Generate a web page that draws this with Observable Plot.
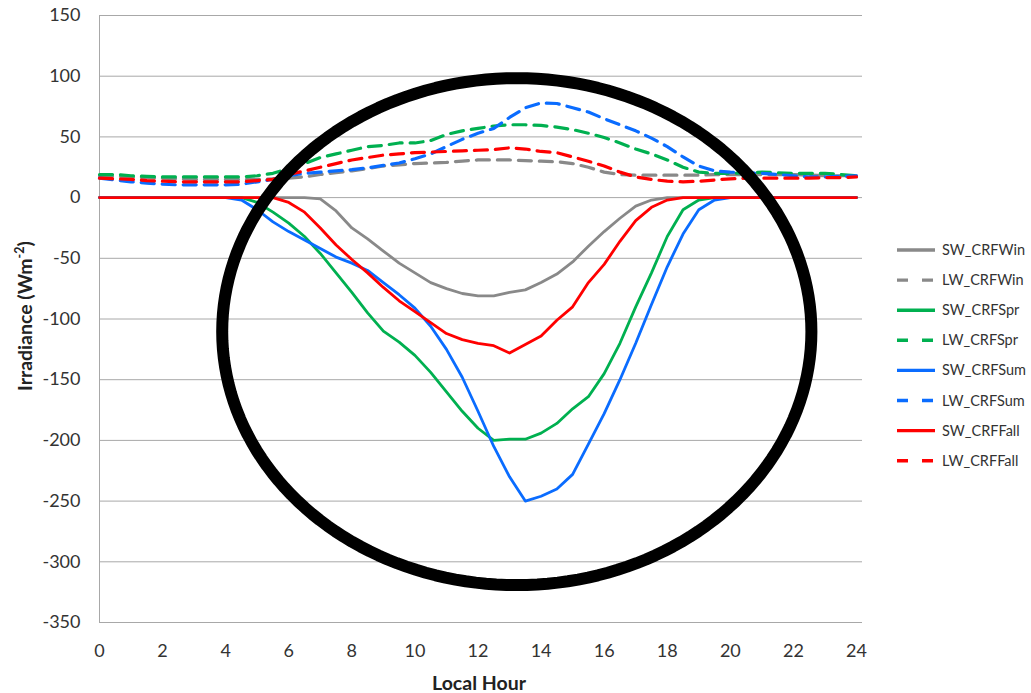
<!DOCTYPE html>
<html>
<head>
<meta charset="utf-8">
<script src="https://cdn.jsdelivr.net/npm/d3@7"></script>
<script src="https://cdn.jsdelivr.net/npm/@observablehq/plot@0.6"></script>
<style>
  body { margin: 0; background: #fff; }
  #chart { position: relative; width: 1031px; height: 693px; }
</style>
</head>
<body>
<div id="chart"></div>
<script>
// Half-hourly local hours, 0 to 24
const hours = d3.range(0, 24.01, 0.5);

// Shortwave cloud radiative forcing (W m-2) by season
const swWin = [0,0,0,0,0,0,0,0,0,0,0,0,0,0,
  -1,-11,-25,-34,-44,-54,-62,-70,-75,-79,-81,-81,-78,-76,-70,-63,-53,-40,-28,-17,-7,-2,0,
  0,0,0,0,0,0,0,0,0,0,0,0];
const swSpr = [0,0,0,0,0,0,0,0,0,0,
  -4,-12,-21,-32,-46,-62,-78,-95,-110,-119,-130,-144,-160,-176,-190,-200,-199,-199,-194,-186,-174,-164,-145,-120,-90,-62,-32,-10,-2,
  0,0,0,0,0,0,0,0,0,0];
const swSum = [0,0,0,0,0,0,0,0,0,
  -2,-10,-20,-28,-35,-42,-49,-54,-60,-70,-80,-91,-106,-125,-148,-176,-205,-230,-250,-246,-240,-228,-203,-178,-150,-120,-88,-57,-30,-10,-2,
  0,0,0,0,0,0,0,0,0];
const swFall = [0,0,0,0,0,0,0,0,0,0,0,0,
  -4,-12,-25,-39,-51,-62,-74,-85,-94,-103,-112,-117,-120,-122,-128,-121,-114,-101,-90,-70,-55,-36,-19,-8,-2,
  0,0,0,0,0,0,0,0,0,0,0,0];

// Longwave cloud radiative forcing (W m-2) by season
const lwWin = [18,17.5,17,16.5,16,15.5,15,15,15,15,15,15.5,16,17,19,20.5,22,24,26,27,28,28.5,29,30,31,31,31,30.5,30,29.5,28,25,21,19,18.5,18.5,18.5,18.5,18.5,19,19,19,19,19,19,18.5,18,18,18];
const lwSpr = [19,19,18,17.5,17,17,17,17,17,17,18,20,24,28,33,36,39,42,43,45,45,47,52,55,57,59,60,60,59.5,58,56,53,49.5,45,40,36,31,25,21,20,20,20.5,21,20.5,20,20,20,19,18];
const lwSum = [16,14.5,13,12,11,10.5,10.5,10.5,10.5,11,13,15,18,20,21,22,23,24.5,26.5,28.5,32,36,42,48,53,57,66,74,78,77.5,74,70.5,65,60,55,49,42,33.5,26,22,21,20.5,20,19,18,17,17,17.5,18];
const lwFall = [16,15.5,15,14,13.5,13,13,13,13,13,14,15,19,22,25,28,31,33,35,36,37,37.5,38,38.5,39,39.5,41,40,38,37,33.5,30,26,21,17,15,13.5,13,13.5,14.5,15.5,16,16,16,16,16,16.5,16.5,17];

const seriesNames = ["SW_CRFWin","LW_CRFWin","SW_CRFSpr","LW_CRFSpr","SW_CRFSum","LW_CRFSum","SW_CRFFall","LW_CRFFall"];
const seriesValues = [swWin, lwWin, swSpr, lwSpr, swSum, lwSum, swFall, lwFall];
const seriesColors = ["#898989","#898989","#00b050","#00b050","#0a6cff","#0a6cff","#ff0000","#ff0000"];
const seriesDashed = [false,true,false,true,false,true,false,true];

const xTicks = [0,2,4,6,8,10,12,14,16,18,20,22,24];
const yTicks = [150,100,50,0,-50,-100,-150,-200,-250,-300,-350];

// Highlight ellipse around the daytime forcing (hours, W m-2)
const ring = {cx: 13.23, cy: -110.4, rx: 9.34, ry: 208.8};
const ringPts = d3.range(0, 361, 2).map(a => {
  const t = a * Math.PI / 180;
  return {h: ring.cx + ring.rx * Math.cos(t), v: ring.cy + ring.ry * Math.sin(t)};
});

const rows = seriesNames.flatMap((name, i) =>
  seriesValues[i].map((v, j) => ({series: name, h: hours[j], v})));

const lineMarks = seriesNames.map((name, i) =>
  Plot.line(rows.filter(d => d.series === name), {
    x: "h", y: "v",
    stroke: seriesColors[i],
    strokeWidth: seriesDashed[i] ? 3.2 : 2.8,
    strokeDasharray: seriesDashed[i] ? "13,8" : null,
    strokeLinejoin: "round"
  }));

const plot = Plot.plot({
  width: 1031,
  height: 693,
  marginLeft: 99,
  marginRight: 169,
  marginTop: 15,
  marginBottom: 71,
  style: {fontFamily: "Lato, 'Open Sans', sans-serif", fontSize: "18px", color: "#333", background: "#fff"},
  x: {domain: [0, 24.19]},
  y: {domain: [-350, 150]},
  marks: [
    Plot.ruleY(yTicks, {stroke: "#a8a8a8", strokeWidth: 1}),
    Plot.ruleX([0], {stroke: "#a8a8a8", strokeWidth: 1}),
    Plot.axisY({ticks: yTicks, tickSize: 0, tickPadding: 19, label: null, tickFormat: d => d < 0 ? "-" + Math.abs(d) : String(d)}),
    Plot.axisX({ticks: xTicks, tickSize: 0, tickPadding: 22, label: null}),
    ...lineMarks,
    Plot.line(ringPts, {x: "h", y: "v", stroke: "#000", strokeWidth: 12, curve: "linear"})
  ]
});

const svg = d3.select(plot);

// Axis titles
svg.append("text")
  .attr("x", 479).attr("y", 690)
  .attr("text-anchor", "middle")
  .attr("font-family", "Lato, sans-serif")
  .attr("font-weight", "bold")
  .attr("font-size", 19.5)
  .attr("fill", "#222")
  .text("Local Hour");

const yl = svg.append("text")
  .attr("transform", "translate(32,316) rotate(-90)")
  .attr("text-anchor", "middle")
  .attr("font-family", "Lato, sans-serif")
  .attr("font-weight", "bold")
  .attr("font-size", 19.5)
  .attr("fill", "#222");
yl.append("tspan").text("Irradiance (Wm");
yl.append("tspan").attr("font-size", 12.5).attr("dy", -8).text("-2");
yl.append("tspan").attr("dy", 8).text(")");

// Legend
const lg = svg.append("g").attr("transform", "translate(897,250)");
seriesNames.forEach((name, i) => {
  const g = lg.append("g").attr("transform", `translate(0,${i * 30.1})`);
  g.append("line")
    .attr("x1", 0).attr("x2", 38).attr("y1", 0).attr("y2", 0)
    .attr("stroke", seriesColors[i]).attr("stroke-width", 3.4)
    .attr("stroke-dasharray", seriesDashed[i] ? "11,14" : null);
  g.append("text")
    .attr("x", 45).attr("y", 0).attr("dy", "0.35em")
    .attr("text-anchor", "start")
    .attr("font-family", "Lato, sans-serif")
    .attr("font-size", 14.5)
    .attr("fill", "#333")
    .text(name);
});

document.getElementById("chart").appendChild(plot);
</script>
</body>
</html>
